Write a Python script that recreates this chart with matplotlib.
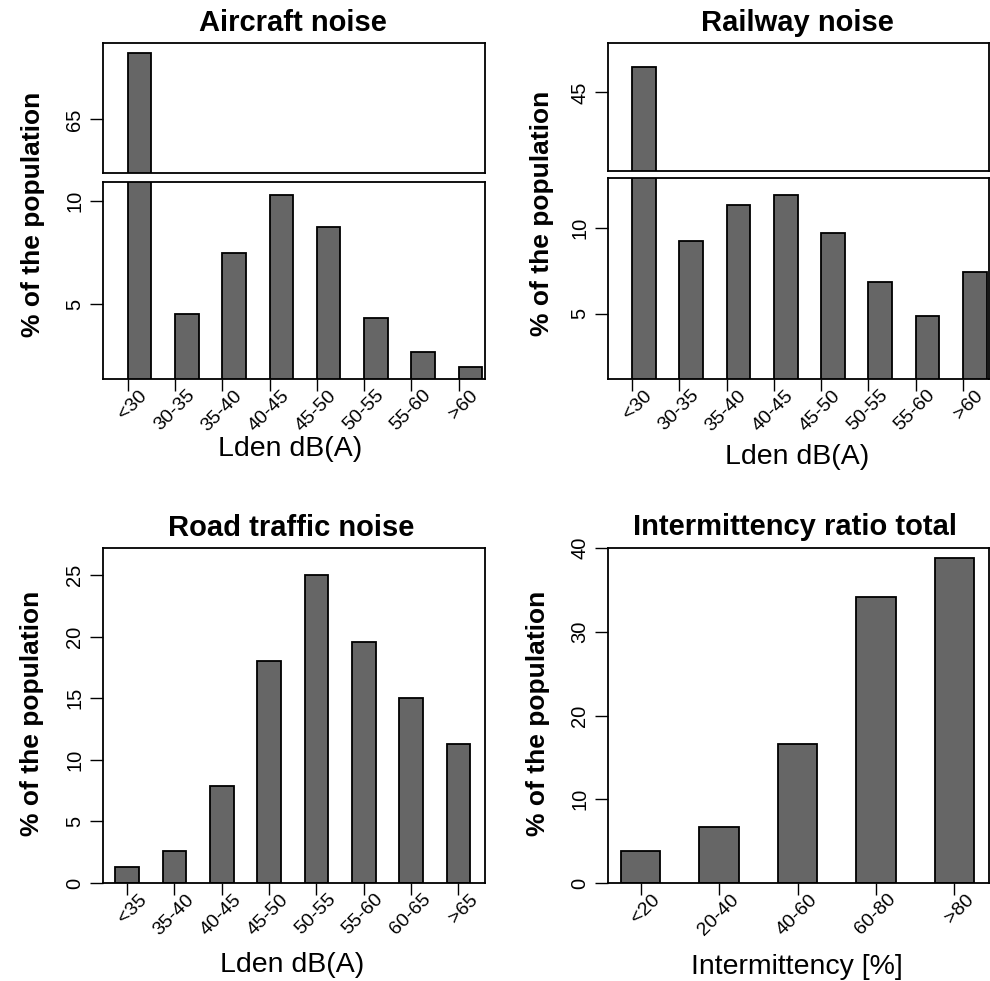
import numpy as np
import matplotlib
matplotlib.use('Agg')
import matplotlib.pyplot as plt
from matplotlib.transforms import ScaledTranslation

plt.rcParams['font.family'] = ['Liberation Sans', 'DejaVu Sans']

# values
aircraft_labels = ['<30', '30-35', '35-40', '40-45', '45-50', '50-55', '55-60', '>60']
aircraft_vals = [68.2, 4.51, 7.46, 10.29, 8.72, 4.31, 2.66, 1.94]

railway_labels = ['<30', '30-35', '35-40', '40-45', '45-50', '50-55', '55-60', '>60']
railway_vals = [46.5, 9.21, 11.30, 11.90, 9.67, 6.84, 4.87, 7.44]

road_labels = ['<35', '35-40', '40-45', '45-50', '50-55', '55-60', '60-65', '>65']
road_vals = [1.30, 2.62, 7.89, 18.0, 25.0, 19.6, 15.05, 11.27]

inter_labels = ['<20', '20-40', '40-60', '60-80', '>80']
inter_vals = [3.86, 6.73, 16.6, 34.2, 38.8]

W, H = 990, 981
fig = plt.figure(figsize=(W / 100, H / 100), dpi=100)

BAR = '#666666'
LW = 1.3


def px_axes(x0, y0, x1, y1):
    return fig.add_axes([x0 / W, 1 - y1 / H, (x1 - x0) / W, (y1 - y0) / H])


def style_y(ax, ylim, yticks):
    ax.set_ylim(*ylim)
    ax.set_yticks(yticks)
    ax.tick_params(axis='y', length=9.5, width=1, labelsize=14.5, pad=4, labelrotation=90)
    for lab in ax.get_yticklabels():
        lab.set_va('center')
    for s in ax.spines.values():
        s.set_linewidth(LW)


def style_x(ax, labels, xlim):
    ax.set_xlim(*xlim)
    ax.set_xticks(np.arange(len(labels)))
    ax.set_xticklabels(labels, rotation=45, ha='right', va='center',
                       rotation_mode='anchor', fontsize=14)
    ax.tick_params(axis='x', length=8.5, width=1, pad=1.5)
    off = ScaledTranslation(0.17, 0.0, fig.dpi_scale_trans)
    for lab in ax.get_xticklabels():
        lab.set_transform(lab.get_transform() + off)


def bars(ax, vals, align):
    ax.bar(np.arange(len(vals)), vals, width=0.5, align=align,
           color=BAR, edgecolor='black', linewidth=LW, zorder=2)


def broken(x0, x1, ytop, ymid1, ymid2, ybot, labels, vals, top_lim, top_tick,
           bot_lim, bot_ticks, xlim):
    ax_t = px_axes(x0, ytop, x1, ymid1)
    ax_b = px_axes(x0, ymid2, x1, ybot)
    bars(ax_t, vals, 'edge')
    bars(ax_b, vals, 'edge')
    style_y(ax_t, top_lim, [top_tick])
    style_y(ax_b, bot_lim, bot_ticks)
    ax_t.set_xlim(*xlim)
    ax_t.set_xticks([])
    style_x(ax_b, labels, xlim)
    return ax_t, ax_b


# Aircraft noise
broken(103, 485, 43, 173, 182, 379, aircraft_labels, aircraft_vals,
       (62.4, 68.7), 65, (1.36, 10.92), [5, 10], (-0.525, 7.56))

# Railway noise
broken(608, 989, 43, 171, 178, 379, railway_labels, railway_vals,
       (40.4, 47.9), 45, (1.2, 12.9), [5, 10], (-0.51, 7.55))

# Road traffic noise
ax_r = px_axes(103, 548, 485, 883)
bars(ax_r, road_vals, 'center')
style_y(ax_r, (0, 27.2), [0, 5, 10, 15, 20, 25])
style_x(ax_r, road_labels, (-0.51, 7.56))

# Intermittency ratio
ax_i = px_axes(608, 548, 989, 883)
bars(ax_i, inter_vals, 'center')
style_y(ax_i, (0, 40), [0, 10, 20, 30, 40])
style_x(ax_i, inter_labels, (-0.416, 4.44))


def ftext(x, y, s, **kw):
    fig.text(x / W, 1 - y / H, s, ha='center', va='center', **kw)


# titles
ftext(293, 23, 'Aircraft noise', fontsize=21, fontweight='bold')
ftext(797, 23, 'Railway noise', fontsize=21, fontweight='bold')
ftext(291, 528, 'Road traffic noise', fontsize=21, fontweight='bold')
ftext(795, 527, 'Intermittency ratio total', fontsize=21, fontweight='bold')

# y labels
for x, y in [(33, 214), (542, 213), (32, 713), (538, 713)]:
    ftext(x, y, '% of the population', fontsize=19, fontweight='bold', rotation=90)

# x labels
ftext(290, 449, 'Lden dB(A)', fontsize=20.5)
ftext(797, 457, 'Lden dB(A)', fontsize=20.5)
ftext(292, 965, 'Lden dB(A)', fontsize=20.5)
ftext(797, 967, 'Intermittency [%]', fontsize=20.5)

fig.savefig('out.png', dpi=100)
